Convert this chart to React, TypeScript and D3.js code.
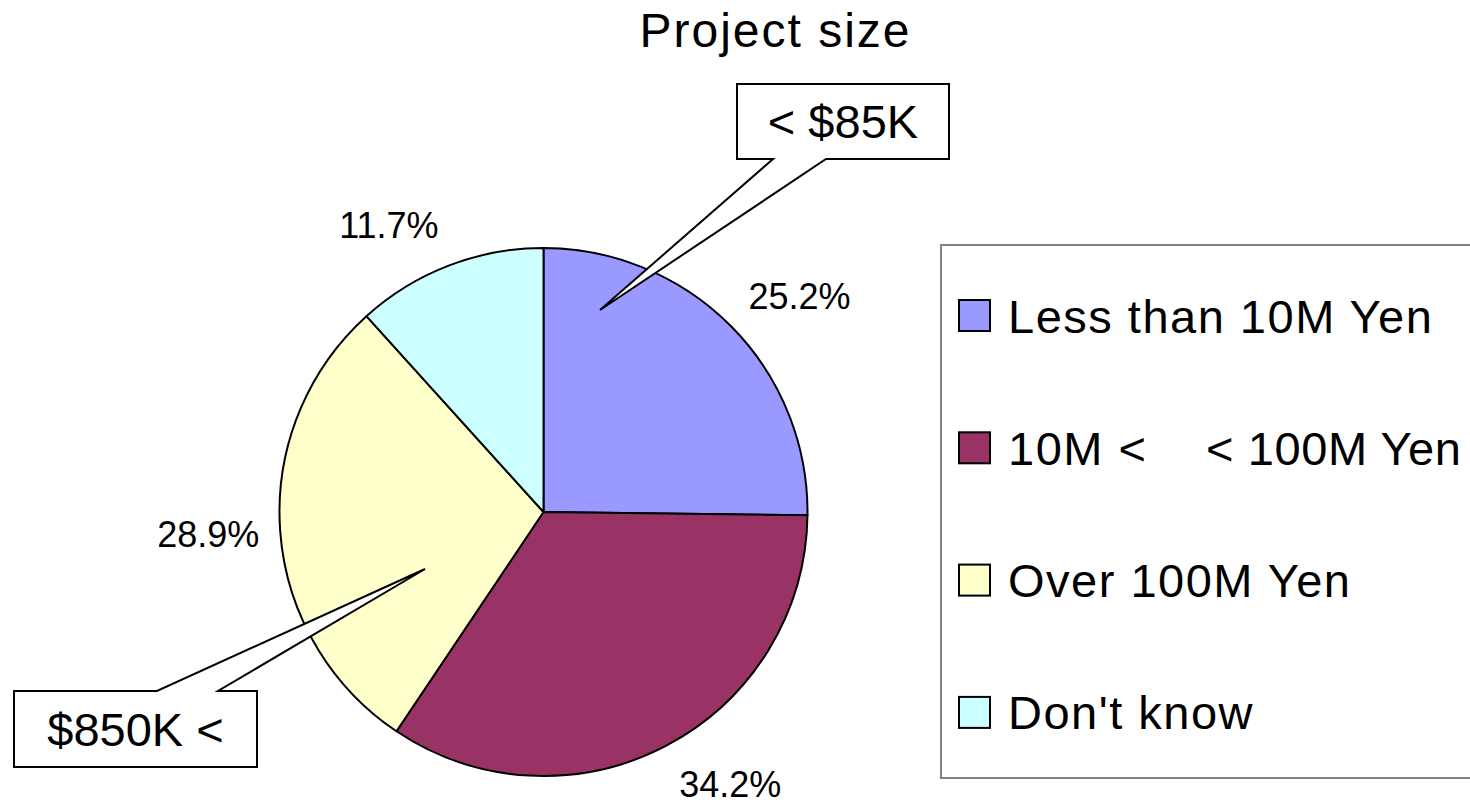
import React from "react";
import * as d3 from "d3";

const categories = ["Less than 10M Yen", "10M <    < 100M Yen", "Over 100M Yen", "Don't know"];
const values = [25.2, 34.2, 28.9, 11.7];
const colors = ["#9999FF", "#993366", "#FFFFCC", "#CCFFFF"];
const title = "Project size";
const callouts = [
  { text: "< $85K", box: [737, 84, 949, 159], base: [773, 826], tip: [600, 310] },
  { text: "$850K <", box: [14, 691, 257, 767], base: [157, 218], tip: [425, 569] },
];

const FONT = "'Liberation Sans', Arial, Helvetica, sans-serif";

export default function App() {
  const W = 1470, H = 808;
  const cx = 543.5, cy = 512, R = 264;
  const pie = d3.pie<number>().sort(null).value((d) => d).startAngle(0).endAngle(2 * Math.PI);
  const arcs = pie(values);
  const arc = d3.arc<d3.PieArcDatum<number>>().innerRadius(0).outerRadius(R);
  const labelR = 281;

  const calloutPath = (c: any) => {
    const [x0, y0, x1, y1] = c.box;
    const [b0, b1] = c.base;
    const [tx, ty] = c.tip;
    if (ty > y1) {
      return `M${x0},${y0}L${x1},${y0}L${x1},${y1}L${b1},${y1}L${tx},${ty}L${b0},${y1}L${x0},${y1}Z`;
    }
    return `M${x0},${y0}L${b0},${y0}L${tx},${ty}L${b1},${y0}L${x1},${y0}L${x1},${y1}L${x0},${y1}Z`;
  };

  return (
    <svg width={W} height={H} style={{ position: "absolute", left: 0, top: 0, background: "#fff" }}>
      <text x={775.5} y={47} textAnchor="middle" fontFamily={FONT} fontSize={48} letterSpacing={2} fill="#000">
        {title}
      </text>
      <g transform={`translate(${cx},${cy})`}>
        {arcs.map((a, i) => (
          <path key={i} d={arc(a) as string} fill={colors[i]} stroke="#000" strokeWidth={2} strokeLinejoin="round" />
        ))}
        {arcs.map((a, i) => {
          const mid = (a.startAngle + a.endAngle) / 2;
          const s = Math.sin(mid), c = Math.cos(mid);
          const px = labelR * s + (s >= 0 ? 5 : -4);
          const py = -labelR * c - c * 26;
          return (
            <text key={i} x={px} y={py} dy="0.36em" textAnchor={s >= 0 ? "start" : "end"} fontFamily={FONT} fontSize={36} fill="#000">
              {values[i].toFixed(1) + "%"}
            </text>
          );
        })}
      </g>
      {callouts.map((c, i) => (
        <g key={i}>
          <path d={calloutPath(c)} fill="#fff" stroke="#000" strokeWidth={2} strokeLinejoin="miter" />
          <text
            x={(c.box[0] + c.box[2]) / 2}
            y={(c.box[1] + c.box[3]) / 2}
            dy="0.36em"
            textAnchor="middle"
            fontFamily={FONT}
            fontSize={47}
            fill="#000"
          >
            {c.text}
          </text>
        </g>
      ))}
      <rect x={941} y={245} width={560} height={533} fill="#fff" stroke="#808080" strokeWidth={2} />
      {categories.map((cat, i) => {
        const yc = 315.5 + i * 132.3;
        const parts = cat.split(/\s{2,}/);
        return (
          <g key={i}>
            <rect x={959} y={yc - 15.5} width={31} height={31} fill={colors[i]} stroke="#000" strokeWidth={2} />
            <text x={1008} y={yc + 17} fontFamily={FONT} fontSize={47} letterSpacing={1.5} fill="#000">
              {parts.length > 1 ? (
                <>
                  <tspan x={1008}>{parts[0]}</tspan>
                  <tspan x={1206} letterSpacing={0.6}>{parts[1]}</tspan>
                </>
              ) : (
                cat
              )}
            </text>
          </g>
        );
      })}
    </svg>
  );
}
